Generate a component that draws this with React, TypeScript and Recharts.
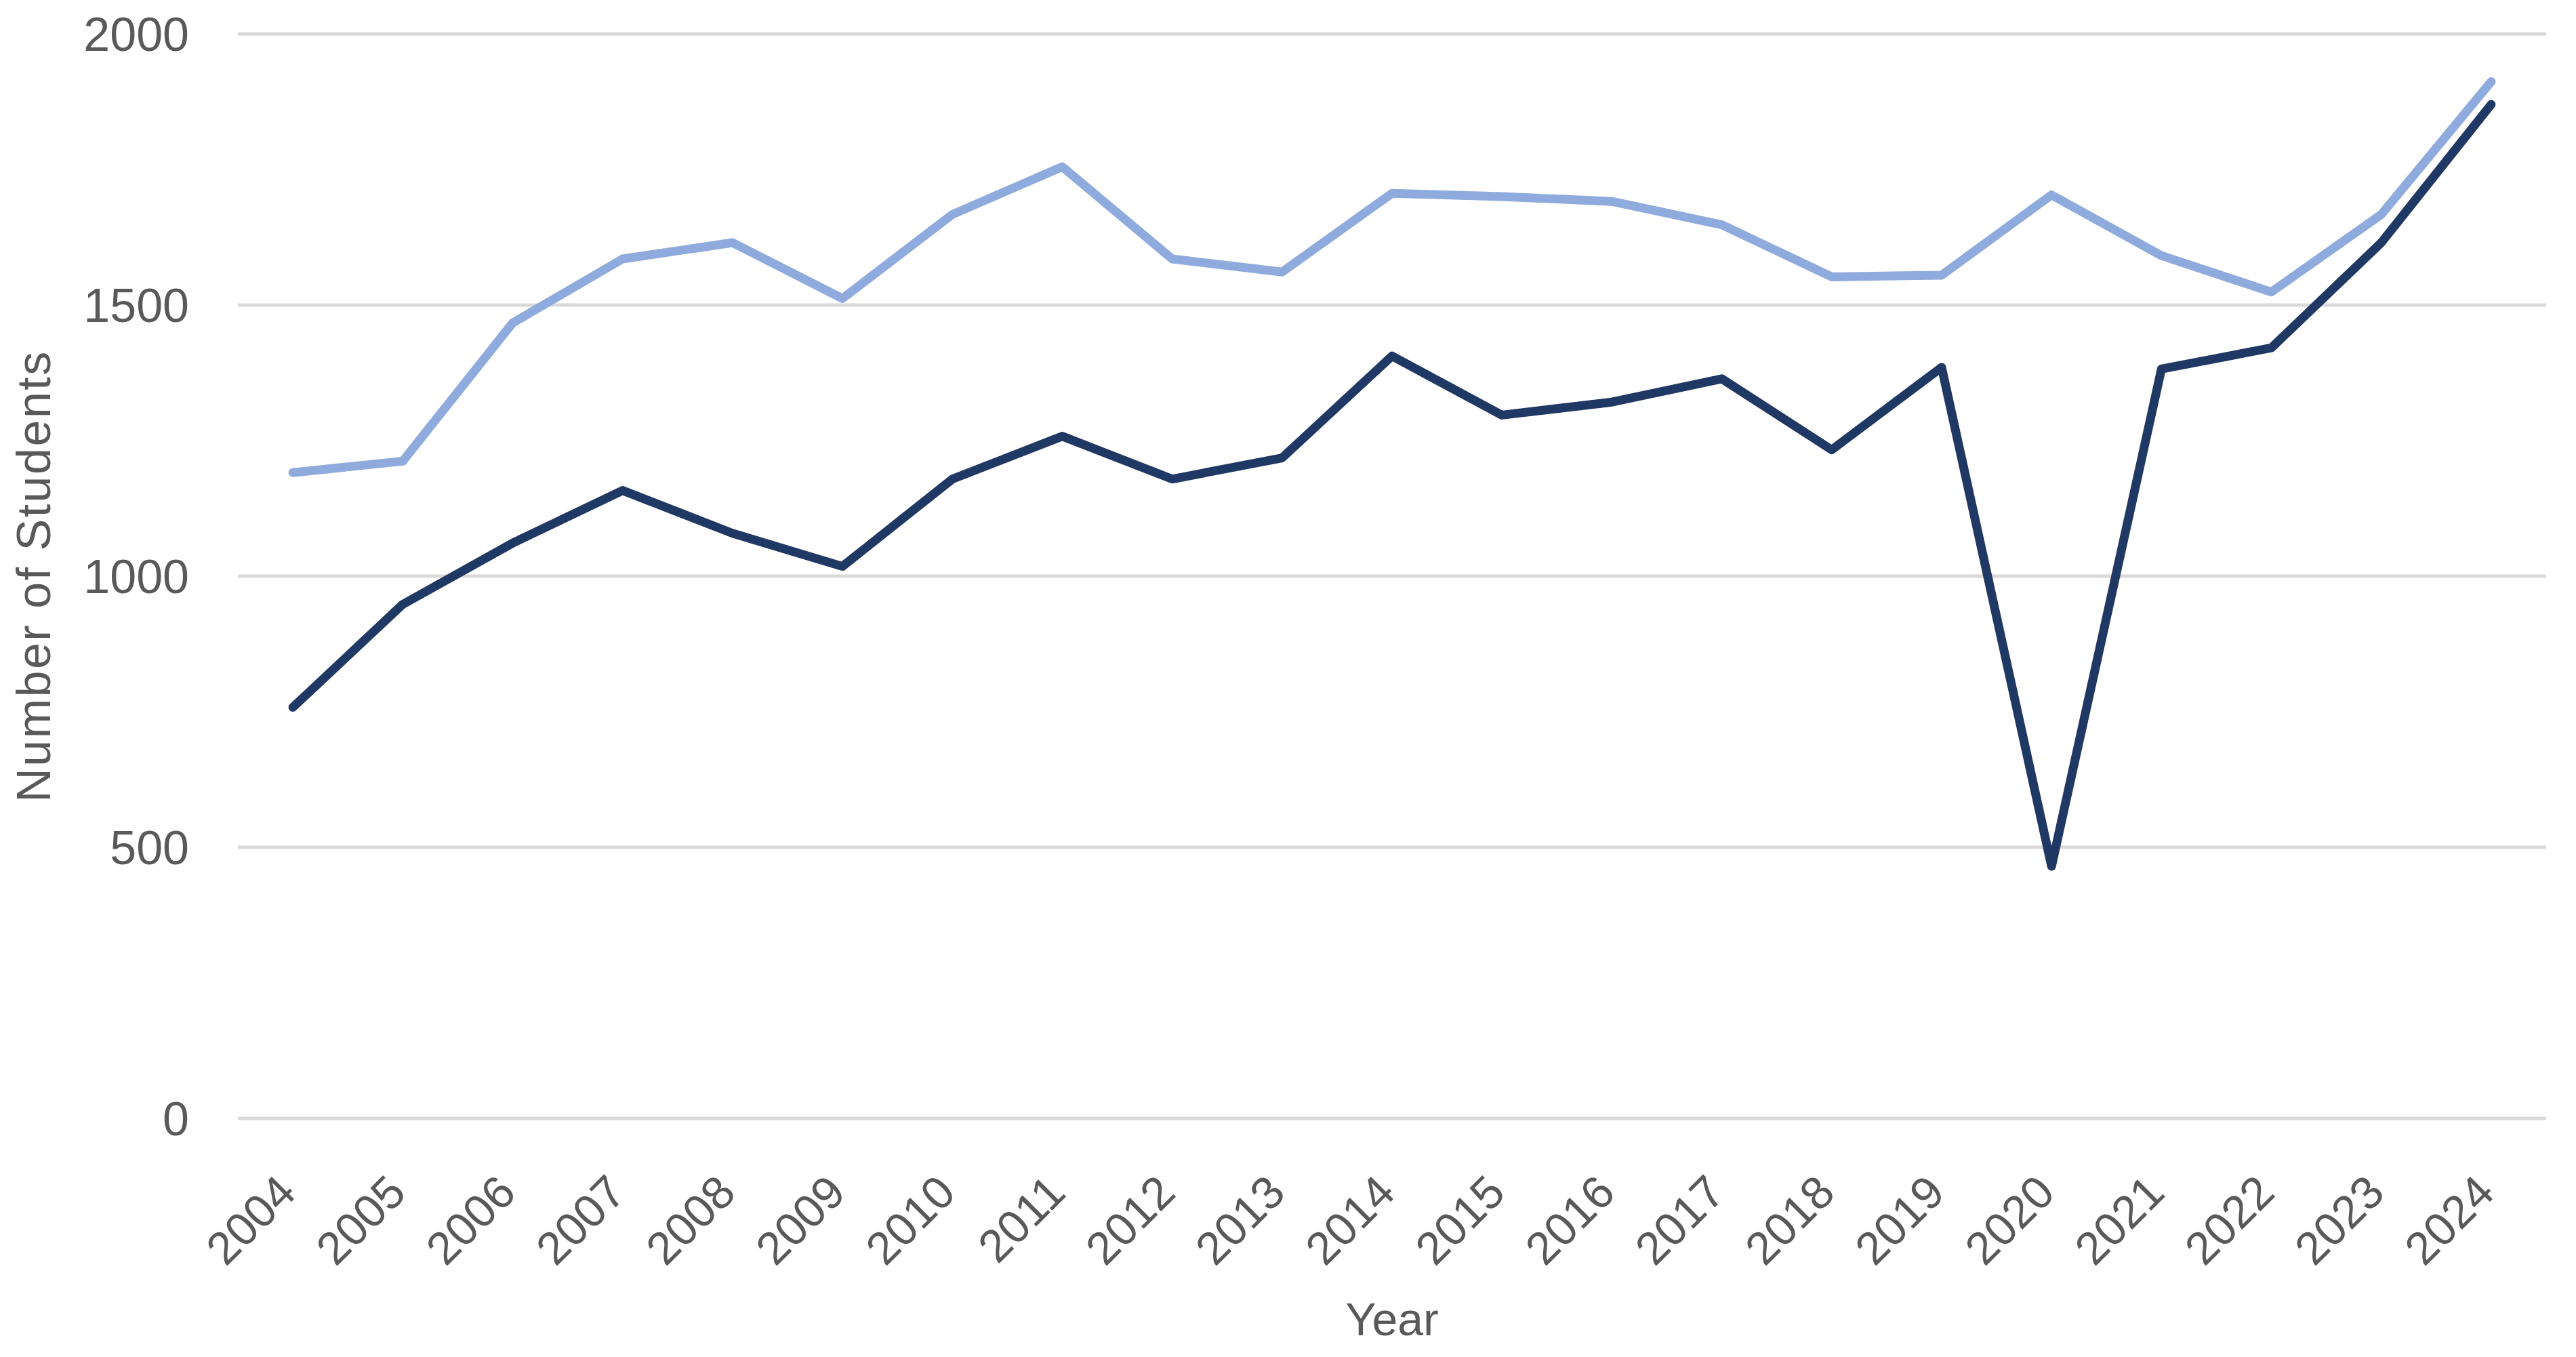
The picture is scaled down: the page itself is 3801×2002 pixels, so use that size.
import { LineChart, Line, XAxis, YAxis, CartesianGrid } from 'recharts';

const years = ['2004', '2005', '2006', '2007', '2008', '2009', '2010', '2011', '2012', '2013', '2014', '2015', '2016', '2017', '2018', '2019', '2020', '2021', '2022', '2023', '2024'];
const darkSeries = [758, 948, 1061, 1158, 1079, 1018, 1179, 1258, 1179, 1218, 1406, 1297, 1321, 1364, 1233, 1385, 465, 1382, 1421, 1615, 1870];
const lightSeries = [1191, 1212, 1467, 1585, 1615, 1512, 1667, 1755, 1585, 1561, 1706, 1700, 1691, 1648, 1552, 1555, 1703, 1591, 1524, 1667, 1912];
const yTicks = [0, 500, 1000, 1500, 2000];

const DARK = '#203864';
const LIGHT = '#8FAADC';
const TEXT = '#595959';
const GRID = '#D9D9D9';
const FONT = '"Liberation Sans", Arial, sans-serif';

const data = years.map((y, i) => ({ year: y, dark: darkSeries[i], light: lightSeries[i] }));

const W = 3801;
const H = 2002;
const PLOT_W = 3406;
const HALF_BAND = PLOT_W / years.length / 2;

const YearTick = ({ x, y, payload }: any) => (
    <text
        x={x + 8}
        y={y + 105}
        transform={`rotate(-45, ${x + 8}, ${y + 105})`}
        textAnchor="end"
        fill={TEXT}
        fontSize={68}
        fontFamily={FONT}
    >
        {payload.value}
    </text>
);

export default function App() {
    return (
        <div style={{ position: 'absolute', left: 0, top: 0, width: W, height: H, background: '#fff' }}>
            <LineChart width={W} height={H} data={data} margin={{ top: 50, right: 44, left: 0, bottom: 0 }}>
                <CartesianGrid vertical={false} stroke={GRID} strokeWidth={5} />
                <XAxis
                    dataKey="year"
                    height={352}
                    axisLine={false}
                    tickLine={false}
                    interval={0}
                    padding={{ left: HALF_BAND, right: HALF_BAND }}
                    tick={<YearTick />}
                    label={{
                        content: ({ viewBox }: any) => (
                            <text
                                x={viewBox.x + viewBox.width / 2}
                                y={viewBox.y + 296}
                                textAnchor="middle"
                                dominantBaseline="central"
                                fill={TEXT}
                                fontSize={68}
                                fontFamily={FONT}
                            >
                                Year
                            </text>
                        ),
                    }}
                />
                <YAxis
                    width={351}
                    domain={[0, 2000]}
                    ticks={yTicks}
                    axisLine={false}
                    tickLine={false}
                    tickSize={0}
                    tickMargin={72}
                    tick={{ fill: TEXT, fontSize: 70, fontFamily: FONT }}
                    label={{
                        content: ({ viewBox }: any) => {
                            const cx = 50;
                            const cy = viewBox.y + viewBox.height / 2;
                            return (
                                <text
                                    x={cx}
                                    y={cy}
                                    transform={`rotate(-90, ${cx}, ${cy})`}
                                    textAnchor="middle"
                                    dominantBaseline="central"
                                    fill={TEXT}
                                    fontSize={70}
                                    letterSpacing={2.5}
                                    fontFamily={FONT}
                                >
                                    Number of Students
                                </text>
                            );
                        },
                    }}
                />
                <Line type="linear" dataKey="light" stroke={LIGHT} strokeWidth={13} dot={false} strokeLinecap="round" strokeLinejoin="round" isAnimationActive={false} />
                <Line type="linear" dataKey="dark" stroke={DARK} strokeWidth={13} dot={false} strokeLinecap="round" strokeLinejoin="round" isAnimationActive={false} />
            </LineChart>
        </div>
    );
}
